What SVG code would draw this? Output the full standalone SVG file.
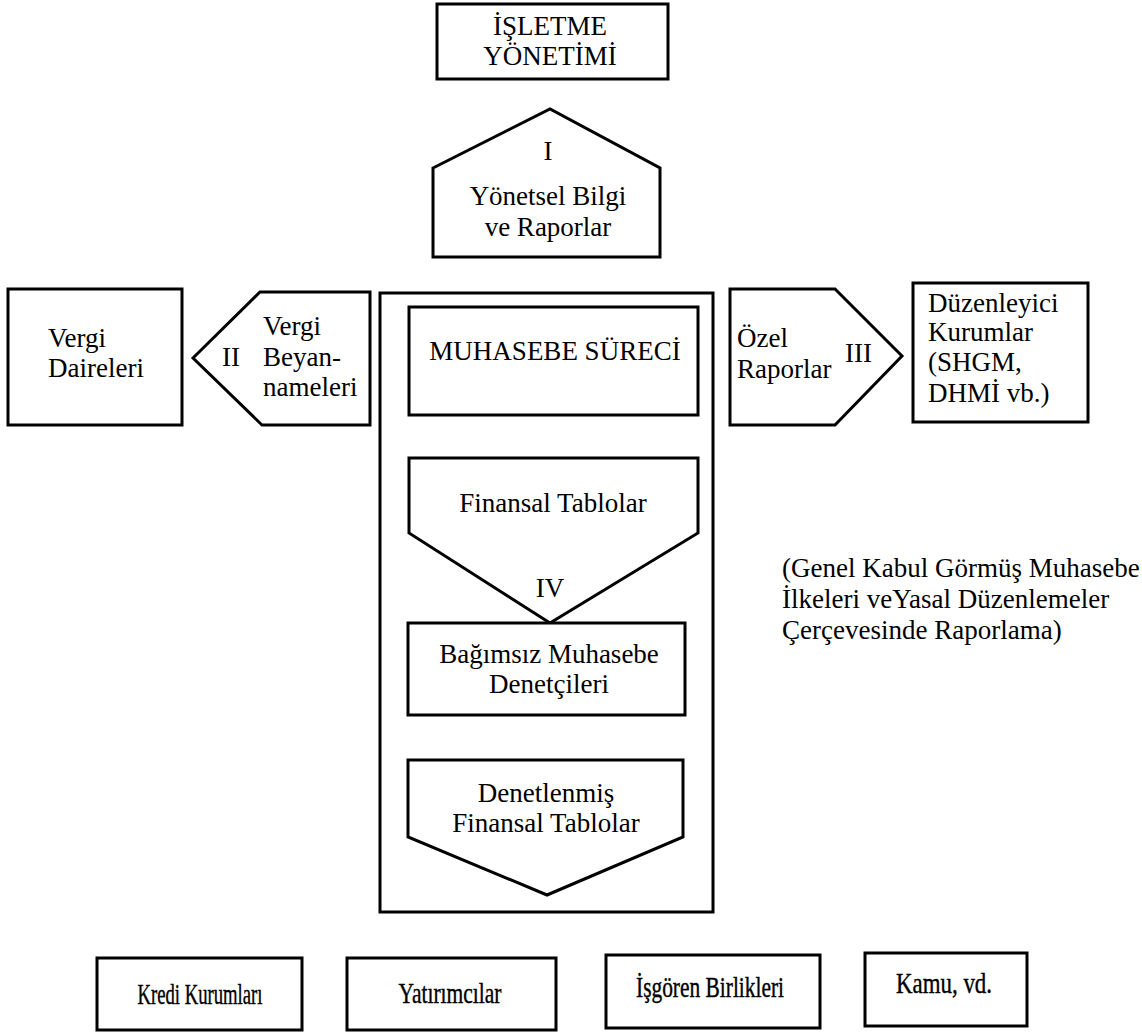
<svg xmlns="http://www.w3.org/2000/svg" width="1142" height="1036" viewBox="0 0 1142 1036">
  <style>
    .box { fill: #fff; stroke: #000; stroke-width: 3; stroke-linejoin: miter; }
    .frame { fill: none; stroke: #000; stroke-width: 3; }
    text { font-family: "Liberation Serif", "Times New Roman", serif; font-size: 27px; fill: #000; }
    .c { text-anchor: middle; }
    .narrow { font-size: 30px; stroke: #000; stroke-width: 0.4; }
  </style>
  <rect width="1142" height="1036" fill="#fff"/>

  <!-- top: management -->
  <g id="isletme-yonetimi">
    <rect class="box" x="437" y="4" width="231" height="75"/>
    <text class="c" x="550" y="35">İŞLETME</text>
    <text class="c" x="550" y="65">YÖNETİMİ</text>
  </g>

  <!-- I: managerial reports (house shape pointing up) -->
  <g id="yonetsel-bilgi">
    <polygon class="box" points="433,168 550,109 660,168 660,257 433,257"/>
    <text class="c" x="548" y="160">I</text>
    <text class="c" x="548" y="205">Yönetsel Bilgi</text>
    <text class="c" x="548" y="236">ve Raporlar</text>
  </g>

  <!-- left side: tax -->
  <g id="vergi-daireleri">
    <rect class="box" x="8" y="289" width="174" height="136"/>
    <text x="48" y="347">Vergi</text>
    <text x="48" y="377">Daireleri</text>
  </g>

  <g id="vergi-beyannameleri">
    <polygon class="box" points="193,358 260,292 370,292 370,425 262,425"/>
    <text x="222" y="366">II</text>
    <text x="263" y="335">Vergi</text>
    <text x="263" y="366">Beyan-</text>
    <text x="263" y="396">nameleri</text>
  </g>

  <!-- centre: accounting process frame -->
  <g id="muhasebe-cercevesi">
    <rect class="frame" x="380" y="293" width="333" height="619"/>
  </g>

  <g id="muhasebe-sureci">
    <rect class="box" x="409" y="307" width="289" height="108"/>
    <text class="c" x="555" y="360">MUHASEBE SÜRECİ</text>
  </g>

  <g id="finansal-tablolar">
    <polygon class="box" points="409,458 698,458 698,533 550,623 409,533"/>
    <text class="c" x="553" y="512">Finansal Tablolar</text>
    <text class="c" x="550" y="597">IV</text>
  </g>

  <g id="bagimsiz-denetciler">
    <rect class="box" x="408" y="623" width="277" height="92"/>
    <text class="c" x="549" y="663">Bağımsız Muhasebe</text>
    <text class="c" x="549" y="693">Denetçileri</text>
  </g>

  <g id="denetlenmis-tablolar">
    <polygon class="box" points="408,760 683,760 683,837 547,895 408,837"/>
    <text class="c" x="546" y="802">Denetlenmiş</text>
    <text class="c" x="546" y="832">Finansal Tablolar</text>
  </g>

  <!-- right side: regulators -->
  <g id="ozel-raporlar">
    <polygon class="box" points="730,289 835,289 902,356 835,425 730,425"/>
    <text x="737" y="347">Özel</text>
    <text x="737" y="378">Raporlar</text>
    <text x="845" y="362">III</text>
  </g>

  <g id="duzenleyici-kurumlar">
    <rect class="box" x="913" y="283" width="175" height="139"/>
    <text x="928" y="312">Düzenleyici</text>
    <text x="928" y="341">Kurumlar</text>
    <text x="928" y="371">(SHGM,</text>
    <text x="928" y="402">DHMİ vb.)</text>
  </g>

  <!-- note on reporting framework -->
  <g id="not">
    <text x="782" y="577">(Genel Kabul Görmüş Muhasebe</text>
    <text x="782" y="608">İlkeleri veYasal Düzenlemeler</text>
    <text x="782" y="639">Çerçevesinde Raporlama)</text>
  </g>

  <!-- bottom row: other users, set in a condensed face -->
  <g id="kredi-kurumlari">
    <rect class="box" x="97" y="958" width="205" height="72"/>
    <text class="c narrow" x="200" y="1004" textLength="125" lengthAdjust="spacingAndGlyphs">Kredi Kurumları</text>
  </g>

  <g id="yatirimcilar">
    <rect class="box" x="347" y="958" width="209" height="72"/>
    <text class="c narrow" x="450" y="1003" textLength="103" lengthAdjust="spacingAndGlyphs">Yatırımcılar</text>
  </g>

  <g id="isgoren-birlikleri">
    <rect class="box" x="606" y="955" width="214" height="73"/>
    <text class="c narrow" x="710" y="997" textLength="148" lengthAdjust="spacingAndGlyphs">İşgören Birlikleri</text>
  </g>

  <g id="kamu">
    <rect class="box" x="865" y="953" width="162" height="73"/>
    <text class="c narrow" x="944" y="993" textLength="96" lengthAdjust="spacingAndGlyphs">Kamu, vd.</text>
  </g>

  <g id="connectors"/>
</svg>
